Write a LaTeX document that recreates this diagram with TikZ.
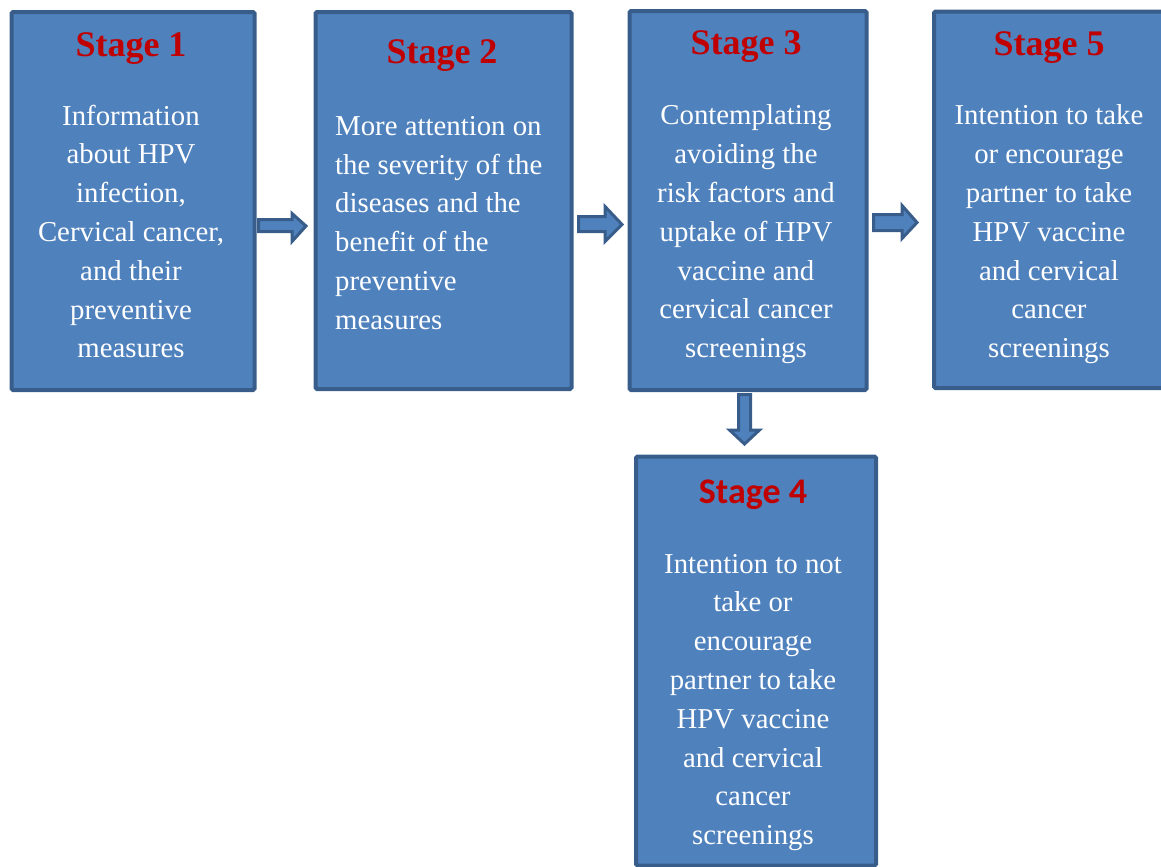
\documentclass[tikz,border=0pt]{standalone}
\usepackage{fontspec}
\setmainfont{Liberation Serif}
\newfontfamily\calfont{Carlito}
\definecolor{boxfill}{RGB}{79,129,189}
\definecolor{boxline}{RGB}{56,93,138}
\definecolor{titlered}{RGB}{192,0,0}
\tikzset{
  stagebox/.style={draw=boxline, fill=boxfill, line width=4bp, rounded corners=1.5bp, anchor=north west, inner sep=0pt},
  blockarrow/.style={draw=boxline, fill=boxfill, line width=3bp, line join=miter},
  titletext/.style={text=titlered, font=\fontsize{36bp}{40bp}\selectfont\bfseries, inner sep=0pt},
  bodytext/.style={text=white, font=\fontsize{28.8bp}{38.8bp}\selectfont, align=center, inner sep=0pt}
}
\begin{document}
\begin{tikzpicture}[x=1bp,y=-1bp]
\useasboundingbox (0,0) rectangle (1161,867);
\clip (0,0) rectangle (1161,867);
% boxes
\node[stagebox, minimum width=243bp, minimum height=378bp] (s1) at (9.5,10) {};
\node[stagebox, minimum width=256bp, minimum height=377bp] (s2) at (313.5,10) {};
\node[stagebox, minimum width=237bp, minimum height=379bp] (s3) at (627.5,9) {};
\node[stagebox, minimum width=250bp, minimum height=376.5bp] (s5) at (932,9.5) {};
\node[stagebox, minimum width=240bp, minimum height=409bp] (s4) at (634,454.5) {};
% titles
\node[titletext] (t1) at (131,49) {Stage 1};
\node[titletext] (t2) at (442,56) {Stage 2};
\node[titletext] (t3) at (746,47) {Stage 3};
\node[titletext] (t5) at (1049,48) {Stage 5};
\node[titletext, font=\fontsize{36bp}{40bp}\selectfont\calfont\bfseries] (t4) at (753,495) {Stage 4};
% body texts
\node[bodytext] (b1) at (131,231.5) {Information\\about HPV\\infection,\\Cervical cancer,\\and their\\preventive\\measures};
\node[bodytext, align=left, anchor=west] (b2) at (335,223) {More attention on\\the severity of the\\diseases and the\\benefit of the\\preventive\\measures};
\node[bodytext] (b3) at (746,234.5) {Contemplating\\avoiding the\\risk factors and\\uptake of HPV\\vaccine and\\cervical cancer\\screenings};
\node[bodytext] (b5) at (1049,234.5) {Intention to take\\or encourage\\partner to take\\HPV vaccine\\and cervical\\cancer\\screenings};
\node[bodytext] (b4) at (753,702.5) {Intention to not\\take or\\encourage\\partner to take\\HPV vaccine\\and cervical\\cancer\\screenings};
% block arrows
\draw[blockarrow] (258.5,219.5) -- (292,219.5) -- (292,213.5) -- (306,226) -- (292,241.5) -- (292,231.5) -- (258.5,231.5) -- cycle;
\draw[blockarrow] (578.5,216.5) -- (605,216.5) -- (605,206.5) -- (622,224.5) -- (605,241.5) -- (605,231.5) -- (578.5,231.5) -- cycle;
\draw[blockarrow] (873.5,214.5) -- (902,214.5) -- (902,205.5) -- (917,222.5) -- (902,238.5) -- (902,230.5) -- (873.5,230.5) -- cycle;
\draw[blockarrow] (738.5,394.5) -- (738.5,430) -- (729.5,430) -- (744.5,444) -- (759.5,430) -- (750.5,430) -- (750.5,394.5) -- cycle;
\end{tikzpicture}
\end{document}
